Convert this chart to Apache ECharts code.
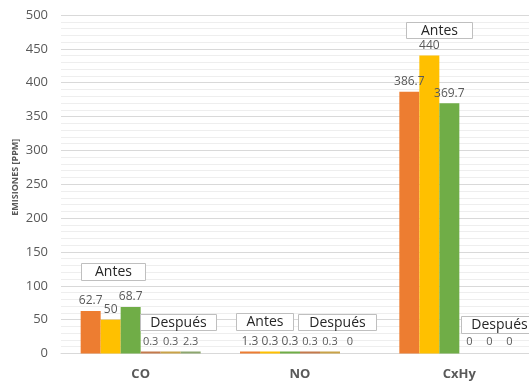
<!DOCTYPE html>
<html><head><meta charset="utf-8">
<script src="https://cdn.jsdelivr.net/npm/echarts@6/dist/echarts.min.js"></script>
<style>html,body{margin:0;padding:0;background:#fff}#c{width:529px;height:381px}</style>
</head><body><div id="c"></div>
<script>
// ---- data ----
const categories = ['CO', 'NO', 'CxHy'];
const antes1 = [62.7, 1.3, 386.7];
const antes2 = [50, 0.3, 440];
const antes3 = [68.7, 0.3, 369.7];
const despues1 = [0.3, 0.3, 0];
const despues2 = [0.3, 0.3, 0];
const despues3 = [2.3, 0, 0];
const yMin = 0, yMax = 500, yInterval = 50;
const yAxisName = 'EMISIONES [PPM]';
const noteTexts = ['Antes', 'Después'];

// ---- styles ----
const F = '"Open Sans", sans-serif';
const TXT = '#595959';
const colors = ['#ED7D31', '#FFC000', '#70AD47', '#C47A4C', '#C9A248', '#8DA66E'];

function mk(name, data, color, fs) {
  return {
    type: 'bar', name: name, data: data,
    barWidth: 20, barGap: '0%', barMinHeight: 2,
    itemStyle: { color: function (p) { return p.value === 0 ? 'rgba(0,0,0,0)' : color; } },
    label: { show: true, position: 'top', distance: 4, fontSize: fs, color: TXT, fontFamily: F },
    emphasis: { disabled: true }
  };
}

// annotation boxes [textIndex, left, top, width, height]
const boxes = [
  [0, 81, 263, 64, 17],
  [1, 140, 314, 76, 16],
  [0, 236, 313, 57, 17],
  [1, 298, 314, 78, 16],
  [0, 406, 22, 66, 16],
  [1, 461, 316, 76, 17]
];
const graphics = [];
boxes.forEach(function (b) {
  graphics.push({ type: 'rect', z: 100, shape: { x: b[1] + 0.5, y: b[2] + 0.5, width: b[3], height: b[4] },
    style: { fill: '#ffffff', stroke: '#bfbfbf', lineWidth: 1 } });
  graphics.push({ type: 'text', z: 101, x: b[1] + b[3] / 2 + 0.5, y: b[2] + b[4] / 2 + 1,
    style: { text: noteTexts[b[0]], fill: '#262626', fontSize: 14, fontFamily: F,
             align: 'center', verticalAlign: 'middle' } });
});

const chart = echarts.init(document.getElementById('c'), null, { renderer: 'canvas' });
chart.setOption({
  animation: false,
  backgroundColor: '#ffffff',
  grid: { left: 61, right: -10, top: 15, bottom: 27.5, containLabel: false, outerBoundsMode: 'none' },
  xAxis: {
    type: 'category', data: categories,
    axisTick: { show: false },
    axisLine: { show: true, lineStyle: { color: '#d9d9d9', width: 1 } },
    axisLabel: { fontSize: 13, fontWeight: 'bold', color: TXT, fontFamily: F, margin: 14 }
  },
  yAxis: {
    type: 'value', min: yMin, max: yMax, interval: yInterval,
    name: yAxisName, nameLocation: 'middle', nameGap: 41, nameRotate: 90, nameMoveOverlap: false,
    nameTextStyle: { fontSize: 9, fontWeight: 'bold', color: TXT, fontFamily: F, padding: [0, 0, 0, 14] },
    axisLine: { show: false }, axisTick: { show: false },
    axisLabel: { fontSize: 13, color: TXT, fontFamily: F, margin: 13 },
    splitLine: { show: true, lineStyle: { color: '#d9d9d9', width: 1 } },
    minorTick: { show: false, splitNumber: 5 },
    minorSplitLine: { show: true, lineStyle: { color: '#eeeeee', width: 1 } }
  },
  series: [
    mk('Antes 1', antes1, colors[0], 12),
    mk('Antes 2', antes2, colors[1], 12),
    mk('Antes 3', antes3, colors[2], 12),
    mk('Después 1', despues1, colors[3], 11),
    mk('Después 2', despues2, colors[4], 11),
    mk('Después 3', despues3, colors[5], 11)
  ],
  graphic: graphics
});
</script>
</body></html>
